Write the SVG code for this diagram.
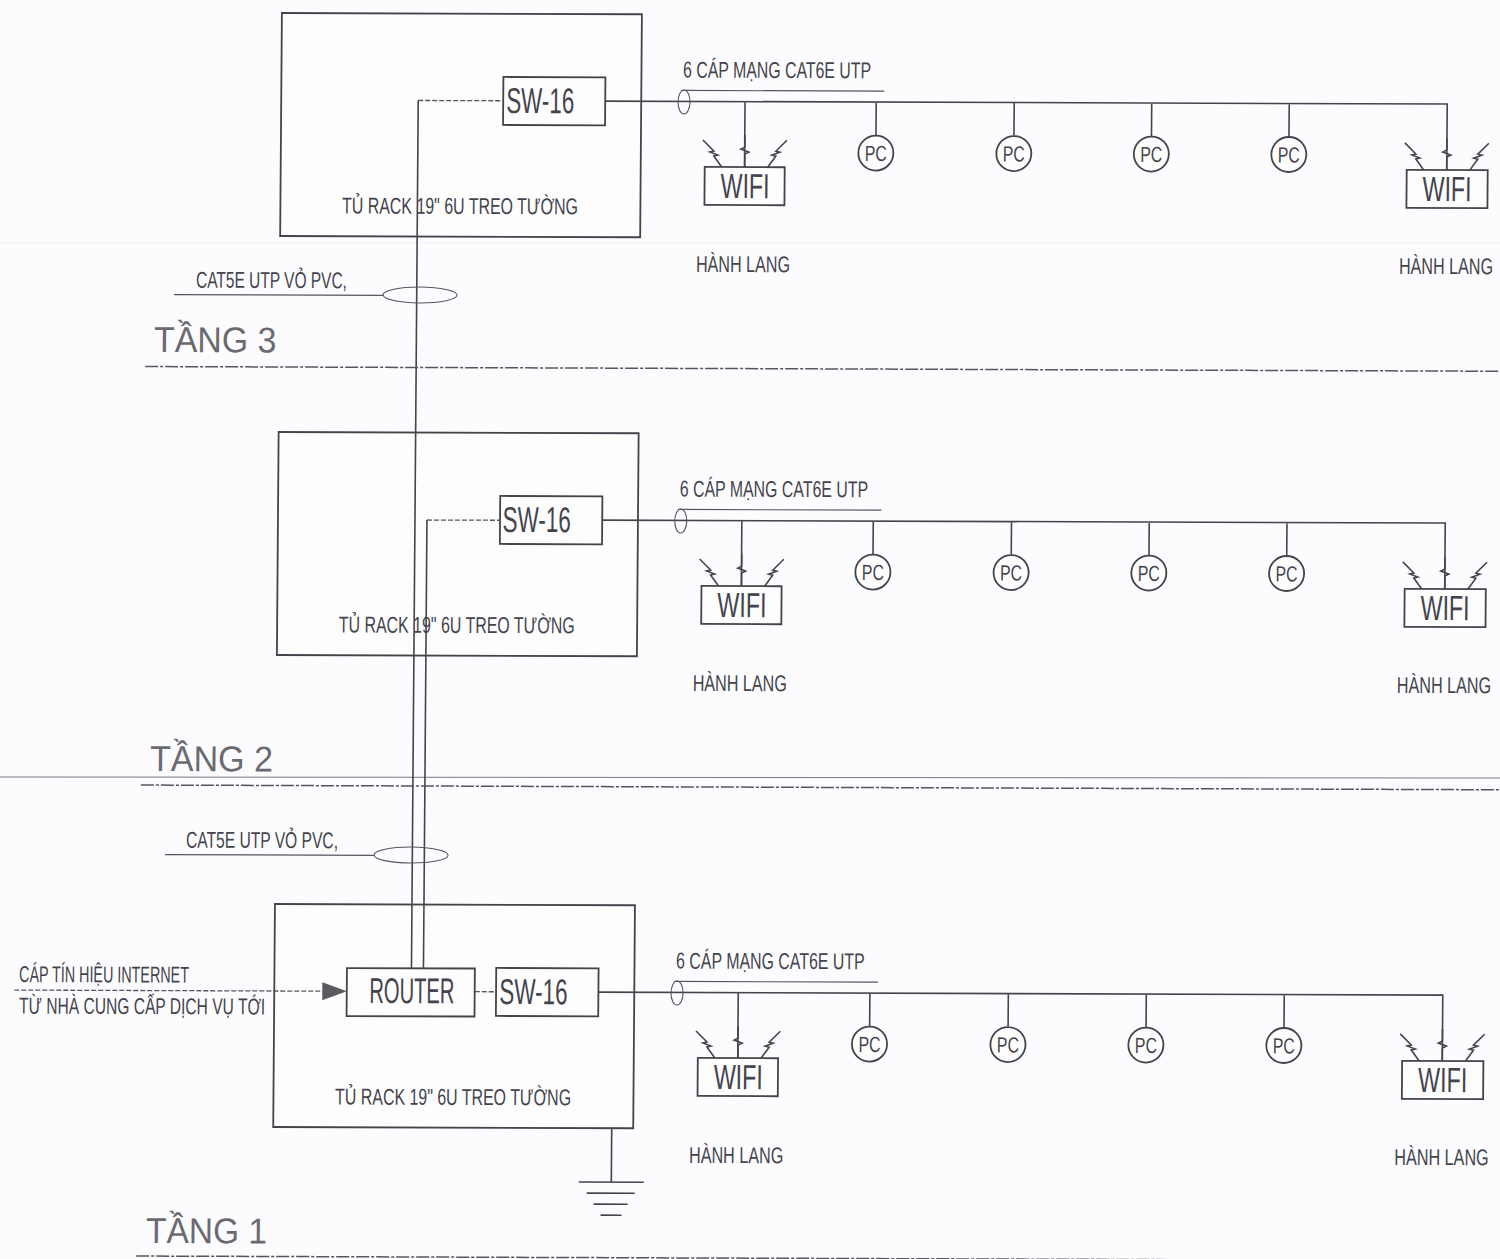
<svg xmlns="http://www.w3.org/2000/svg" width="1500" height="1259" viewBox="0 0 1500 1259">
<style>
text{font-family:"Liberation Sans",Arial,sans-serif;fill:#44444c}
.s{fill:#fdfdfe;stroke:#44444c;stroke-width:1.8}
.n{fill:none;stroke:#44444c;stroke-width:1.6}
.t{fill:none;stroke:#55555c;stroke-width:1.1}
.d{fill:none;stroke:#55555c;stroke-width:1.3;stroke-dasharray:5 2}
.dd{fill:none;stroke:#55555c;stroke-width:1.5;stroke-dasharray:13 2 3 2}
.l{font-size:23px}
.w{font-size:35px}
.sw{font-size:36px}
.pc{font-size:22px;text-anchor:middle}
.h{font-size:36px;fill:#6a6a70}
</style>
<defs>
<g id="antennas" class="n"><path d="M-23 0L-31-11-27-12-35-15-31-16-42-27"/><path d="M0 0V-13L4-15-4-18 0-20V-32"/><path d="M23 0L31-11 27-12 35-15 31-16 42-27"/></g>
<g id="branches">
<path class="n" d="M605.6 99H1448V165M745.8 99V164.5M877 99V132M1015 99V132M1152.5 99V132M1290 99V132"/>
<ellipse class="t" cx="684.8" cy="99.6" rx="6" ry="12"/>
<path class="t" d="M682 88H885"/>
</g>
</defs>
<rect width="1500" height="1259" fill="#fcfcfe"/>
<path d="M0 243H1500" stroke="#f1f1f5" stroke-width="1"/>
<path d="M0 777L1500 778" stroke="#77777e" stroke-width="1"/>
<g transform="matrix(1 .0035 -.0078 1 0 0)">
<g id="racks">
<g id="rack-3"><rect class="s" x="282" y="12" width="360" height="223"/><text class="l" transform="translate(343.7 212.3) scale(.698 1)" textLength="338" lengthAdjust="spacingAndGlyphs">TỦ RACK 19" 6U TREO TƯỜNG</text></g>
<g id="rack-2" transform="translate(0,419)"><rect class="s" x="282" y="12" width="360" height="223"/><text class="l" transform="translate(343.7 212.3) scale(.698 1)" textLength="338" lengthAdjust="spacingAndGlyphs">TỦ RACK 19" 6U TREO TƯỜNG</text></g>
<g id="rack-1" transform="translate(0,891)"><rect class="s" x="282" y="12" width="360" height="223"/><text class="l" transform="translate(343.7 212.3) scale(.698 1)" textLength="338" lengthAdjust="spacingAndGlyphs">TỦ RACK 19" 6U TREO TƯỜNG</text></g>
</g>
<g id="connectors">
<use href="#branches"/>
<use href="#branches" transform="matrix(1.0017 0 0 1 -1.17 419)"/>
<use href="#branches" transform="matrix(1.0033 0 0 1 -2.28 891)"/>
<path class="d" d="M419 99H503.6"/>
<path class="n" d="M419 99V967"/>
<path class="d" d="M431 518.5H503.6"/>
<path class="n" d="M431 518.5V967"/>
<path class="d" d="M482.5 990H503.5"/>
<path class="d" d="M22 990H330"/>
<path fill="#5a5a60" d="M330 981L354.5 990 330 999Z"/>
<path class="n" d="M620.5 1126V1180"/>
<path class="n" d="M588 1180H653M596 1191H644M603 1202H637M610 1213H631"/>
<ellipse class="t" cx="422.3" cy="293.5" rx="37" ry="8"/>
<path class="t" d="M176.3 294H385.3"/>
<ellipse class="t" cx="417.7" cy="853.6" rx="37" ry="8"/>
<path class="t" d="M171.7 854H380.7"/>
</g>
<g id="floor-lines">
<path class="dd" d="M148 366H1510"/>
<path class="dd" d="M147 784.5H1510"/>
<path class="dd" d="M146 1255.5H1510"/>
</g>
<g id="labels">
<text class="h" transform="translate(156.8 351.5) scale(.94 1)" textLength="130" lengthAdjust="spacingAndGlyphs">TẦNG 3</text>
<text class="h" transform="translate(156 770.5) scale(.94 1)" textLength="130.8" lengthAdjust="spacingAndGlyphs">TẦNG 2</text>
<text class="h" transform="translate(155.7 1242.5) scale(.94 1)" textLength="128.7" lengthAdjust="spacingAndGlyphs">TẦNG 1</text>
<text class="l" transform="translate(198.2 287) scale(.668 1)" textLength="226" lengthAdjust="spacingAndGlyphs">CAT5E UTP VỎ PVC,</text>
<text class="l" transform="translate(192.6 847) scale(.668 1)" textLength="227.5" lengthAdjust="spacingAndGlyphs">CAT5E UTP VỎ PVC,</text>
<text class="l" transform="translate(26.7 982) scale(.62 1)" textLength="274" lengthAdjust="spacingAndGlyphs">CÁP TÍN HIỆU INTERNET</text>
<text class="l" transform="translate(27 1013.5) scale(.68 1)" textLength="361.8" lengthAdjust="spacingAndGlyphs">TỪ NHÀ CUNG CẤP DỊCH VỤ TỚI</text>
</g>
<g id="floor-3">
<g id="sw-3"><rect class="s" x="504" y="75.2" width="102" height="48"/><text class="sw" transform="translate(507 111.2) scale(.618 1)" textLength="110" lengthAdjust="spacingAndGlyphs">SW-16</text></g>
<text class="l" transform="translate(683.6 75.2) scale(.631 1)" textLength="298" lengthAdjust="spacingAndGlyphs">6 CÁP MẠNG CAT6E UTP</text>
<g id="wifi-3a"><use href="#antennas" x="746" y="164.5"/><rect class="s" x="706" y="164.5" width="80" height="38"/><text class="w" transform="translate(722 195.5) scale(.663 1)" textLength="73.9" lengthAdjust="spacingAndGlyphs">WIFI</text><text class="l" transform="translate(698 269.5) scale(.725 1)" textLength="129.7" lengthAdjust="spacingAndGlyphs">HÀNH LANG</text></g>
<g id="pc-3a"><circle class="s" cx="877" cy="150" r="17.5"/><text class="pc" transform="translate(877 158) scale(.72 1)">PC</text></g>
<g id="pc-3b"><circle class="s" cx="1015" cy="150" r="17.5"/><text class="pc" transform="translate(1015 158) scale(.72 1)">PC</text></g>
<g id="pc-3c"><circle class="s" cx="1152.5" cy="150" r="17.5"/><text class="pc" transform="translate(1152.5 158) scale(.72 1)">PC</text></g>
<g id="pc-3d"><circle class="s" cx="1290" cy="150" r="17.5"/><text class="pc" transform="translate(1290 158) scale(.72 1)">PC</text></g>
<g id="wifi-3b"><use href="#antennas" x="1448" y="165"/><rect class="s" x="1408" y="165" width="81" height="38"/><text class="w" transform="translate(1424 196) scale(.663 1)" textLength="73.9" lengthAdjust="spacingAndGlyphs">WIFI</text><text class="l" transform="translate(1401 269) scale(.725 1)" textLength="129.7" lengthAdjust="spacingAndGlyphs">HÀNH LANG</text></g>
</g>
<g id="floor-2" transform="matrix(1.0017 0 0 1 -1.17 419)">
<g id="sw-2"><rect class="s" x="504.4" y="75.2" width="102" height="48"/><text class="sw" transform="translate(507 111.2) scale(.618 1)" textLength="110" lengthAdjust="spacingAndGlyphs">SW-16</text></g>
<text class="l" transform="translate(683.6 75.2) scale(.631 1)" textLength="298" lengthAdjust="spacingAndGlyphs">6 CÁP MẠNG CAT6E UTP</text>
<g id="wifi-2a"><use href="#antennas" x="746" y="164.5"/><rect class="s" x="706" y="164.5" width="80" height="38"/><text class="w" transform="translate(722 195.5) scale(.663 1)" textLength="73.9" lengthAdjust="spacingAndGlyphs">WIFI</text><text class="l" transform="translate(698 269.5) scale(.725 1)" textLength="129.7" lengthAdjust="spacingAndGlyphs">HÀNH LANG</text></g>
<g id="pc-2a"><circle class="s" cx="877" cy="150" r="17.5"/><text class="pc" transform="translate(877 158) scale(.72 1)">PC</text></g>
<g id="pc-2b"><circle class="s" cx="1015" cy="150" r="17.5"/><text class="pc" transform="translate(1015 158) scale(.72 1)">PC</text></g>
<g id="pc-2c"><circle class="s" cx="1152.5" cy="150" r="17.5"/><text class="pc" transform="translate(1152.5 158) scale(.72 1)">PC</text></g>
<g id="pc-2d"><circle class="s" cx="1290" cy="150" r="17.5"/><text class="pc" transform="translate(1290 158) scale(.72 1)">PC</text></g>
<g id="wifi-2b"><use href="#antennas" x="1448" y="165"/><rect class="s" x="1408" y="165" width="81" height="38"/><text class="w" transform="translate(1424 196) scale(.663 1)" textLength="73.9" lengthAdjust="spacingAndGlyphs">WIFI</text><text class="l" transform="translate(1401 269) scale(.725 1)" textLength="129.7" lengthAdjust="spacingAndGlyphs">HÀNH LANG</text></g>
</g>
<g id="floor-1" transform="matrix(1.0033 0 0 1 -2.28 891)">
<g id="router"><rect class="s" x="355.6" y="75.8" width="127.5" height="48"/><text class="sw" transform="translate(378 110.7) scale(.559 1)" textLength="152" lengthAdjust="spacingAndGlyphs">ROUTER</text></g>
<g id="sw-1"><rect class="s" x="504.4" y="75.2" width="102" height="48"/><text class="sw" transform="translate(507.6 111.2) scale(.618 1)" textLength="110" lengthAdjust="spacingAndGlyphs">SW-16</text></g>
<text class="l" transform="translate(683.6 75.2) scale(.631 1)" textLength="298" lengthAdjust="spacingAndGlyphs">6 CÁP MẠNG CAT6E UTP</text>
<g id="wifi-1a"><use href="#antennas" x="746" y="164.5"/><rect class="s" x="706" y="164.5" width="80" height="38"/><text class="w" transform="translate(722 195.5) scale(.663 1)" textLength="73.9" lengthAdjust="spacingAndGlyphs">WIFI</text><text class="l" transform="translate(698 269.5) scale(.725 1)" textLength="129.7" lengthAdjust="spacingAndGlyphs">HÀNH LANG</text></g>
<g id="pc-1a"><circle class="s" cx="877" cy="150" r="17.5"/><text class="pc" transform="translate(877 158) scale(.72 1)">PC</text></g>
<g id="pc-1b"><circle class="s" cx="1015" cy="150" r="17.5"/><text class="pc" transform="translate(1015 158) scale(.72 1)">PC</text></g>
<g id="pc-1c"><circle class="s" cx="1152.5" cy="150" r="17.5"/><text class="pc" transform="translate(1152.5 158) scale(.72 1)">PC</text></g>
<g id="pc-1d"><circle class="s" cx="1290" cy="150" r="17.5"/><text class="pc" transform="translate(1290 158) scale(.72 1)">PC</text></g>
<g id="wifi-1b"><use href="#antennas" x="1448" y="165"/><rect class="s" x="1408" y="165" width="81" height="38"/><text class="w" transform="translate(1424 196) scale(.663 1)" textLength="73.9" lengthAdjust="spacingAndGlyphs">WIFI</text><text class="l" transform="translate(1401 269) scale(.725 1)" textLength="129.7" lengthAdjust="spacingAndGlyphs">HÀNH LANG</text></g>
</g>
</g>
</svg>
